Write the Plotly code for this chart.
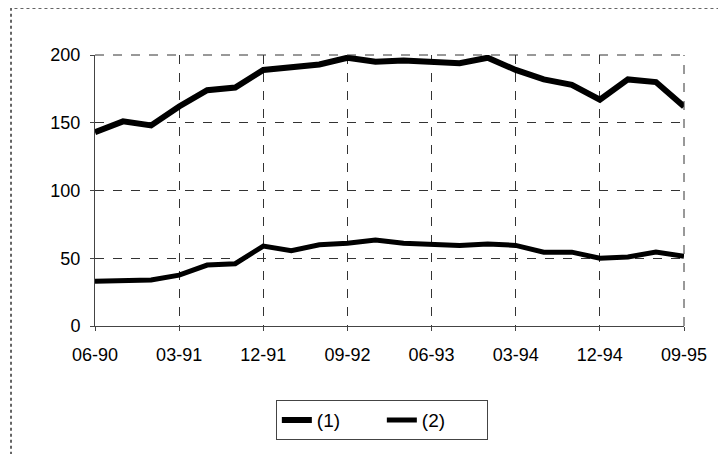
import plotly.graph_objects as go

quarters = ["06-90", "09-90", "12-90", "03-91", "06-91", "09-91", "12-91", "03-92",
            "06-92", "09-92", "12-92", "03-93", "06-93", "09-93", "12-93", "03-94",
            "06-94", "09-94", "12-94", "03-95", "06-95", "09-95"]
serie_1 = [143, 151, 148, 162, 174, 176, 189, 191, 193, 198, 195, 196,
           195, 194, 198, 189, 182, 178, 167, 182, 180, 162]
serie_2 = [33, 33.5, 34, 37.5, 45, 46, 59, 55.5, 60, 61, 63.5, 61,
           60, 59.5, 60.5, 59.5, 54.5, 54.5, 50, 51, 54.5, 51.5]
tick_labels = quarters[::3]

x_idx = list(range(len(quarters)))

fig = go.Figure()
fig.add_trace(go.Scatter(x=x_idx, y=serie_1, mode="lines", name="(1)",
                         line=dict(color="black", width=6)))
fig.add_trace(go.Scatter(x=x_idx, y=serie_2, mode="lines", name="(2)",
                         line=dict(color="black", width=5)))

fig.update_xaxes(
    range=[0, len(quarters) - 1],
    tickvals=x_idx[::3], ticktext=tick_labels,
    showgrid=True, gridcolor="#333333", griddash="dash", gridwidth=1,
    showline=True, linecolor="#444444", linewidth=1,
    ticks="outside", ticklen=4, tickcolor="#444444",
    ticklabelstandoff=8,
    zeroline=False,
)
fig.update_yaxes(
    range=[0, 200], tickvals=[0, 50, 100, 150, 200],
    showgrid=True, gridcolor="#333333", griddash="dash", gridwidth=1,
    showline=True, linecolor="#444444", linewidth=1,
    ticks="outside", ticklen=4, tickcolor="#444444",
    ticklabelstandoff=6,
    zeroline=False,
)

# dashed right/top edge of the plot area
fig.add_shape(type="line", xref="paper", yref="paper", x0=1, x1=1, y0=0, y1=1,
              line=dict(color="#333333", width=1, dash="dash"))
fig.add_shape(type="line", xref="paper", yref="paper", x0=0, x1=1, y0=1, y1=1,
              line=dict(color="#333333", width=1, dash="dash"))
# outer frame
fig.add_shape(type="rect", xref="paper", yref="paper",
              x0=-0.1426, x1=1.0645, y0=-0.6, y1=1.173,
              line=dict(color="#333333", width=1.5, dash="dot"))

# page body has an 8px margin, so the figure is sized to fit the window
fig.update_layout(
    width=718, height=446,
    margin=dict(l=87, r=42, t=47, b=128),
    paper_bgcolor="white", plot_bgcolor="white",
    font=dict(family="Liberation Sans, Arial", size=18, color="black"),
    showlegend=True,
    legend=dict(orientation="h", x=0.487, y=-0.347, xanchor="center", yanchor="middle",
                bordercolor="#444444", borderwidth=1, bgcolor="white",
                font=dict(size=19), entrywidth=60, entrywidthmode="pixels"),
)

fig.write_html("out.html")
